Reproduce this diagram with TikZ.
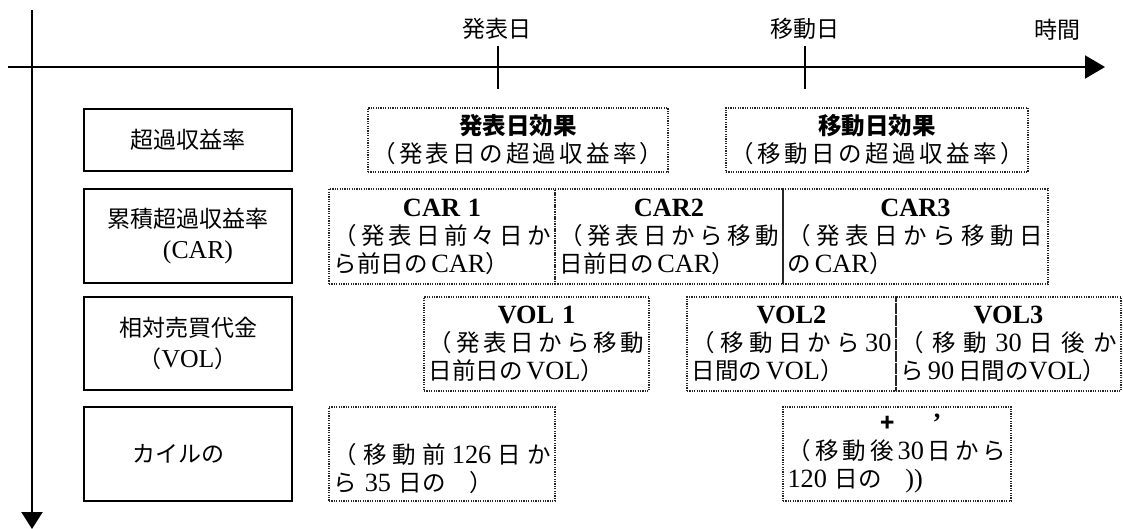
\documentclass[tikz,border=0pt]{standalone}
\usepackage{fontspec}
\setmainfont{Noto Sans CJK JP}
\newfontfamily\serifen[Scale=1.12]{Liberation Serif}
\usetikzlibrary{arrows.meta}
\newcommand\en[1]{{\serifen #1}}
\makeatletter
% spread the items of a line over the whole box width
\def\sp@first#1{#1\sp@loop}
\def\sp@loop#1{\ifx\relax#1\else\hskip 0pt plus 1fil #1\expandafter\sp@loop\fi}
\newcommand\fillline[1]{\leavevmode\hbox to \linewidth{\sp@first#1\relax}}
\makeatother
\newcommand\headline[1]{\makebox[\linewidth]{\bfseries #1}}

\begin{document}
\begin{tikzpicture}[x=1pt,y=-1pt,
    axis/.style={line width=2pt},
    tick/.style={line width=1.5pt},
    timelab/.style={font=\fontsize{23}{26}\selectfont},
    catbox/.style={draw, line width=2.5pt, minimum width=208pt, align=center,
        font=\fontsize{23}{31}\selectfont},
    effbox/.style={draw=black!85, line width=1.3pt, dash pattern=on 1.2pt off 1.2pt,
        inner xsep=4.5pt, inner ysep=0pt, align=left,
        font=\fontsize{23.5}{28}\selectfont}]
    \useasboundingbox (0,0) rectangle (1123,529);

    % Axes
    \coordinate (tstart) at (8,67);
    \coordinate (tend) at (1105,67);
    \coordinate (vstart) at (32,10);
    \coordinate (vend) at (32,529);
    \draw[axis, -{Triangle[length=20pt,width=23pt]}] (tstart) -- (tend);
    \draw[axis, -{Triangle[length=17pt,width=21pt]}] (vstart) -- (vend);

    % Ticks and time labels
    \coordinate (hyo) at (498,67);
    \coordinate (ido) at (805,67);
    \draw[tick] (hyo) ++(0,-21) -- ++(0,43);
    \draw[tick] (ido) ++(0,-21) -- ++(0,43);
    \node[timelab] (hyolab) at (497,29) {発表日};
    \node[timelab] (idolab) at (805,29) {移動日};
    \node[timelab] (jikan) at (1057,30) {時間};

    % Row labels
    \node[catbox, minimum height=62pt] (ar) at (188,140) {超過収益率};
    \node[catbox, minimum height=94pt] (car) at (188,236) {累積超過収益率\\\hspace*{20pt}\en{(CAR)}};
    \node[catbox, minimum height=93pt] (vol) at (188,343.5) {相対売買代金\\（\en{VOL}）};
    \node[catbox, minimum height=94pt] (kyle) at (188,454) {カイルの\hspace*{20pt}};

    % Row 1: abnormal return
    \node[effbox, minimum width=300pt, minimum height=64pt, text width=291pt] (hyoeff) at (518,140)
        {\headline{発表日効果}\\\fillline{（発表日の超過収益率）}};
    \node[effbox, minimum width=302pt, minimum height=64pt, text width=293pt] (idoeff) at (877,140)
        {\headline{移動日効果}\\\fillline{（移動日の超過収益率）}};

    % Row 2: CAR
    \node[effbox, minimum width=226pt, minimum height=95pt, text width=217pt] (car1) at (442,236.5)
        {\headline{\en{CAR 1}}\\\fillline{（発表日前々日か}\\\mbox{ら前日の\,\en{CAR}）}};
    \node[effbox, minimum width=228pt, minimum height=95pt, text width=219pt] (car2) at (669,236.5)
        {\headline{\en{CAR2}}\\\fillline{（発表日から移動}\\\mbox{日前日の\,\en{CAR}）}};
    \node[effbox, minimum width=265pt, minimum height=95pt, text width=256pt] (car3) at (915.5,236.5)
        {\headline{\en{CAR3}}\\\fillline{（発表日から移動日}\\\mbox{の\,\en{CAR}）}};

    % Row 3: VOL
    \node[effbox, minimum width=225pt, minimum height=94pt, text width=216pt] (vol1) at (536.5,344)
        {\headline{\en{VOL 1}}\\\fillline{（発表日から移動}\\\mbox{日前日の\,\en{VOL}）}};
    \node[effbox, minimum width=209pt, minimum height=94pt, text width=200pt] (vol2) at (791.5,344)
        {\headline{\en{VOL2}}\\\fillline{（移動日から{\en{30}}}\\\mbox{日間の\,\en{VOL}）}};
    \node[effbox, minimum width=225pt, minimum height=94pt, text width=216pt] (vol3) at (1008.5,344)
        {\headline{\en{VOL3}}\\\fillline{（移動{\en{30}}日後か}\\\mbox{ら\,\en{90}\,日間の\en{VOL}）}};

    % Row 4: Kyle
    \node[effbox, minimum width=226pt, minimum height=94pt, text width=217pt] (kyle1) at (442,454)
        {\headline{\strut}\\\fillline{（移動前{\en{126}}日か}\\\mbox{ら \en{35} 日の　）}};
    \node[effbox, minimum width=228pt, minimum height=94pt, text width=219pt] (kyle2) at (897,454)
        {\headline{\hspace*{28pt}+\hspace{1.6em}\en{\bfseries ’}}\\\fillline{（移動後{\en{30}}日から}\\\mbox{\en{120} 日の　\en{))}}};
\end{tikzpicture}
\end{document}
